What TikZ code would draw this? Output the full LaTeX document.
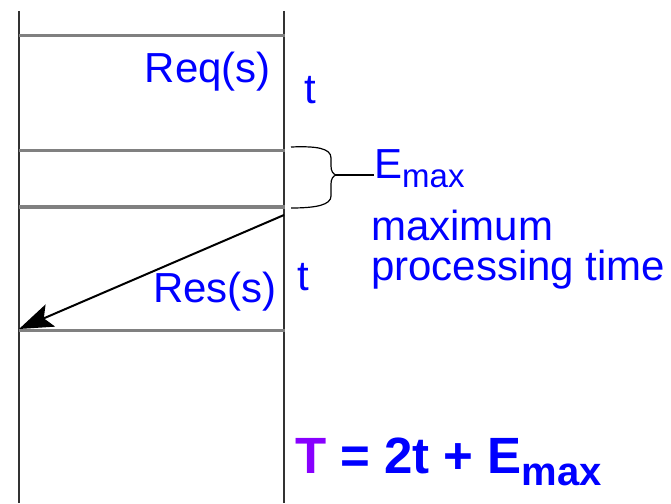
\documentclass[tikz,border=0pt]{standalone}
\usepackage{fontspec}
\setmainfont{Liberation Sans}
\usetikzlibrary{arrows.meta}
\definecolor{txtblue}{RGB}{0,0,255}
\definecolor{tpurple}{RGB}{136,0,255}
\definecolor{lifeline}{RGB}{50,50,50}
\definecolor{tick}{RGB}{128,128,128}
\tikzset{
  lbl/.style={inner sep=0pt, text=txtblue, font=\fontsize{42}{42}\selectfont},
  lifeln/.style={draw=lifeline, line width=2pt},
  msg/.style={draw=tick, line width=3pt},
  resarrow/.style={draw=black, line width=2pt, -{Stealth[length=34pt,width=24pt,inset=7pt]}},
  bracepath/.style={draw=black, line width=1.2pt},
}
\begin{document}
\begin{tikzpicture}[x=1pt,y=-1pt]
\useasboundingbox (0,0) rectangle (671,503);
% lifelines
\coordinate (lt) at (19,11);
\coordinate (lb) at (19,503);
\coordinate (rt) at (284,11);
\coordinate (rb) at (284,503);
\draw[lifeln] (lt) -- (lb);
\draw[lifeln] (rt) -- (rb);
% horizontal lines
\coordinate (h1l) at (19,36);  \coordinate (h1r) at (285,36);
\coordinate (h2l) at (19,150); \coordinate (h2r) at (285,150);
\coordinate (h3l) at (19,207); \coordinate (h3r) at (285,207);
\coordinate (h4l) at (19,330); \coordinate (h4r) at (285,330);
\draw[msg] (h1l) -- (h1r);
\draw[msg] (h2l) -- (h2r);
\draw[msg, line width=4.5pt] (h3l) -- (h3r);
\draw[msg] (h4l) -- (h4r);
% response arrow
\coordinate (as) at (284,215);
\coordinate (ae) at (19,329);
\draw[resarrow] (as) -- (ae);
% brace
\coordinate (btip) at (336,175);
\draw[bracepath] (291,147) .. controls (316,146) and (331,148) .. (331,158)
  -- (331,166) .. controls (331,171) and (333,174) .. (btip)
  .. controls (333,176) and (331,179) .. (331,184)
  -- (331,196) .. controls (331,205) and (316,208) .. (291,208);
% labels
\node[lbl, anchor=base east] (req) at (271,82) {Req(s)};
\node[lbl, anchor=base west] (t1) at (304,103) {t};
\node[lbl, anchor=base east] (res) at (277,302) {Res(s)};
\node[lbl, anchor=base west] (t2) at (297,290) {t};
\node[lbl, anchor=base west] (emax) at (374,178) {E\raisebox{-9pt}{\fontsize{33}{33}\selectfont max}};
\draw[bracepath] (btip) -- (emax.west |- btip);
\node[lbl, anchor=base west] (maxi) at (371,240) {maximum};
\node[lbl, anchor=base west] (proc) at (371,280) {processing time};
\node[lbl, anchor=base west, font=\fontsize{51}{51}\selectfont\bfseries] (form) at (295,473)
  {\textcolor{tpurple}{T} = 2t + E\raisebox{-12pt}{\fontsize{40}{40}\selectfont max}};
\end{tikzpicture}
\end{document}
